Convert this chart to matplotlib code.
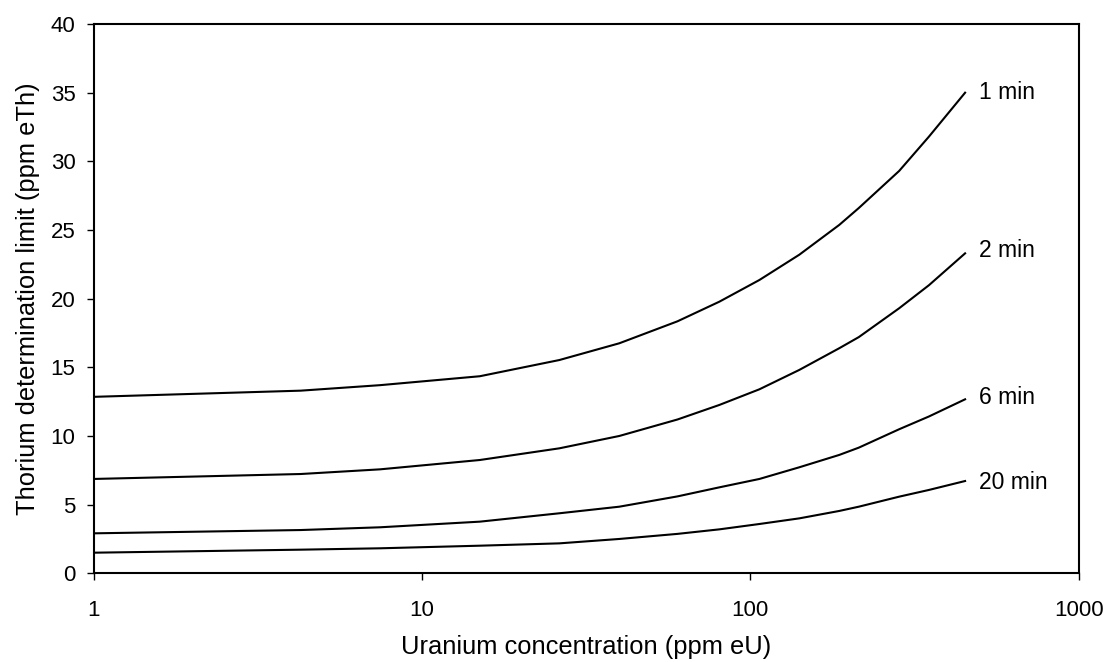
import matplotlib
matplotlib.use("Agg")
import matplotlib.pyplot as plt
from matplotlib.ticker import FixedLocator, NullLocator, FixedFormatter

plt.rcParams['font.family'] = ['Liberation Sans', 'DejaVu Sans']

uranium = [1, 4.27, 7.45, 15, 26.2, 39.9, 60, 80.5, 106.6, 141, 186.6, 214, 284, 350, 451]
th_1min = [12.85, 13.3, 13.7, 14.35, 15.53, 16.75, 18.35, 19.78, 21.36, 23.2, 25.37, 26.6, 29.3, 31.8, 35.0]
th_2min = [6.87, 7.23, 7.57, 8.25, 9.1, 10.0, 11.2, 12.26, 13.4, 14.81, 16.39, 17.2, 19.3, 20.98, 23.3]
th_6min = [2.91, 3.15, 3.35, 3.76, 4.37, 4.85, 5.6, 6.26, 6.87, 7.72, 8.62, 9.15, 10.49, 11.42, 12.67]
th_20min = [1.50, 1.72, 1.82, 2.01, 2.18, 2.50, 2.87, 3.2, 3.59, 4.0, 4.54, 4.85, 5.58, 6.07, 6.72]
series = [("1 min", th_1min), ("2 min", th_2min), ("6 min", th_6min), ("20 min", th_20min)]
label_y = [35.0, 23.5, 12.8, 6.6]

x_ticks = [1, 10, 100, 1000]
x_tick_labels = ["1", "10", "100", "1000"]
y_ticks = [0, 5, 10, 15, 20, 25, 30, 35, 40]

fig = plt.figure(figsize=(11.08, 6.62), dpi=100)
ax = fig.add_axes([0.0845, 0.134, 0.889, 0.8297])

for (name, vals), ly in zip(series, label_y):
    ax.plot(uranium, vals, color='black', lw=1.5)
    ax.text(497, ly, name, fontsize=16.5, ha='left', va='center')

ax.set_xscale('log')
ax.set_xlim(1, 1000)
ax.set_ylim(0, 40)
ax.xaxis.set_major_locator(FixedLocator(x_ticks))
ax.xaxis.set_major_formatter(FixedFormatter(x_tick_labels))
ax.xaxis.set_minor_locator(NullLocator())
ax.set_yticks(y_ticks)

for s in ax.spines.values():
    s.set_linewidth(1.5)
ax.tick_params(axis='both', direction='out', length=5, width=1, labelsize=16)
ax.tick_params(axis='x', pad=14)
ax.tick_params(axis='y', pad=8)

ax.set_xlabel("Uranium concentration (ppm eU)", fontsize=18.4, labelpad=10)
ax.set_ylabel("Thorium determination limit (ppm eTh)", fontsize=18.4, labelpad=8)

fig.savefig("out.png", dpi=100)
